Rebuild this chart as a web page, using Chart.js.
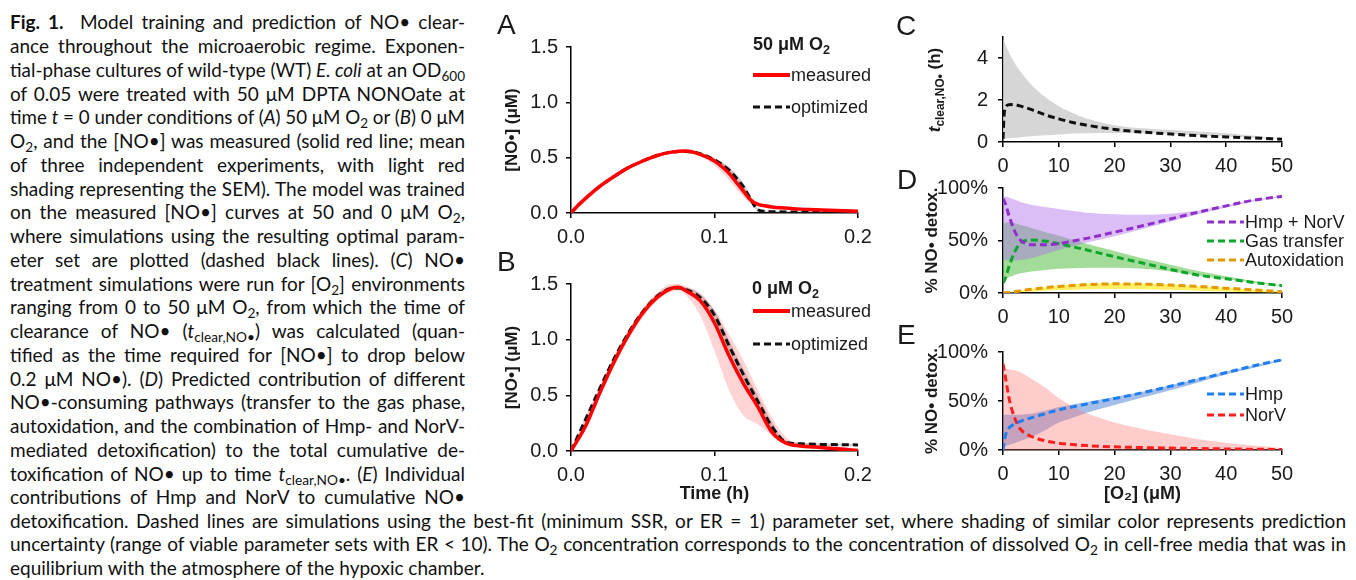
<!DOCTYPE html>
<html>
<head>
<meta charset="utf-8">
<script src="https://cdn.jsdelivr.net/npm/chart.js@4.4.1/dist/chart.umd.min.js"></script>
<style>
body { margin: 0; background: #fff; width: 1356px; height: 580px; position: relative; overflow: hidden; font-family: 'Liberation Sans', Arial, sans-serif; color: #1a1a1a; }
canvas { position: absolute; }
.cap { position: absolute; left: 10px; width: 455px; font-family: 'Lato', 'Noto Sans', sans-serif; font-size: 19px; line-height: 24px; white-space: nowrap; color: #111; overflow: visible; }
.cap.wide { width: 1336px; }
.cap > span { display: inline-block; transform-origin: 0 50%; }
.cap sub { font-size: 0.72em; vertical-align: -0.28em; line-height: 0; }
.lab { position: absolute; font-size: 28px; line-height: 1; }
.ttl { position: absolute; font-weight: bold; font-size: 18px; line-height: 20px; white-space: nowrap; }
.ttl sub { font-size: 0.7em; vertical-align: -0.3em; line-height: 0; }
.leg { position: absolute; font-size: 18px; line-height: 20px; height: 20px; display: flex; align-items: center; white-space: nowrap; }
.leg svg { margin-right: 1px; }
.ytl { position: absolute; font-weight: bold; font-size: 17px; white-space: nowrap; transform: translate(-50%, -50%) rotate(-90deg); }
.ytl sub { font-size: 0.7em; vertical-align: -0.3em; line-height: 0; }
</style>
</head>
<body>

<div class="cap" style="top:10px"><span><b>Fig. 1.</b>&nbsp; Model training and prediction of NO• clear-</span></div>
<div class="cap" style="top:34px"><span>ance throughout the microaerobic regime. Exponen-</span></div>
<div class="cap" style="top:58px"><span>tial-phase cultures of wild-type (WT) <i>E. coli</i> at an OD<sub>600</sub></span></div>
<div class="cap" style="top:82px"><span>of 0.05 were treated with 50 μM DPTA NONOate at</span></div>
<div class="cap" style="top:105px"><span>time <i>t</i> = 0 under conditions of (<i>A</i>) 50 μM O<sub>2</sub> or (<i>B</i>) 0 μM</span></div>
<div class="cap" style="top:129px"><span>O<sub>2</sub>, and the [NO•] was measured (solid red line; mean</span></div>
<div class="cap" style="top:153px"><span>of three independent experiments, with light red</span></div>
<div class="cap" style="top:177px"><span>shading representing the SEM). The model was trained</span></div>
<div class="cap" style="top:200px"><span>on the measured [NO•] curves at 50 and 0 μM O<sub>2</sub>,</span></div>
<div class="cap" style="top:224px"><span>where simulations using the resulting optimal param-</span></div>
<div class="cap" style="top:248px"><span>eter set are plotted (dashed black lines). (<i>C</i>) NO•</span></div>
<div class="cap" style="top:272px"><span>treatment simulations were run for [O<sub>2</sub>] environments</span></div>
<div class="cap" style="top:295px"><span>ranging from 0 to 50 μM O<sub>2</sub>, from which the time of</span></div>
<div class="cap" style="top:319px"><span>clearance of NO• (<i>t</i><sub>clear,NO•</sub>) was calculated (quan-</span></div>
<div class="cap" style="top:343px"><span>tified as the time required for [NO•] to drop below</span></div>
<div class="cap" style="top:367px"><span>0.2 μM NO•). (<i>D</i>) Predicted contribution of different</span></div>
<div class="cap" style="top:390px"><span>NO•-consuming pathways (transfer to the gas phase,</span></div>
<div class="cap" style="top:414px"><span>autoxidation, and the combination of Hmp- and NorV-</span></div>
<div class="cap" style="top:438px"><span>mediated detoxification) to the total cumulative de-</span></div>
<div class="cap" style="top:462px"><span>toxification of NO• up to time <i>t</i><sub>clear,NO•</sub>. (<i>E</i>) Individual</span></div>
<div class="cap" style="top:485px"><span>contributions of Hmp and NorV to cumulative NO•</span></div>
<div class="cap wide" style="top:509px"><span>detoxification. Dashed lines are simulations using the best-fit (minimum SSR, or ER = 1) parameter set, where shading of similar color represents prediction</span></div>
<div class="cap wide" style="top:532px"><span>uncertainty (range of viable parameter sets with ER &lt; 10). The O<sub>2</sub> concentration corresponds to the concentration of dissolved O<sub>2</sub> in cell-free media that was in</span></div>
<div class="cap wide last" style="top:556px"><span>equilibrium with the atmosphere of the hypoxic chamber.</span></div>

<canvas id="panelA" width="400" height="252" style="left:490px;top:0px"></canvas>
<canvas id="panelB" width="400" height="270" style="left:490px;top:240px"></canvas>
<canvas id="panelC" width="466" height="172" style="left:890px;top:0px"></canvas>
<canvas id="panelD" width="466" height="172" style="left:890px;top:160px"></canvas>
<canvas id="panelE" width="466" height="180" style="left:890px;top:330px"></canvas>

<div class="lab" style="left:497px;top:11px">A</div>
<div class="lab" style="left:497px;top:248px">B</div>
<div class="lab" style="left:896px;top:12px">C</div>
<div class="lab" style="left:897px;top:166px">D</div>
<div class="lab" style="left:897px;top:321px">E</div>

<div class="ttl" style="left:753px;top:34px">50 μM O<sub>2</sub></div>
<div class="ttl" style="left:752px;top:278px">0 μM O<sub>2</sub></div>
<div class="ytl" style="left:935px;top:90px"><i>t</i><sub>clear,NO•</sub> (h)</div>

<script>
// ---- panel A : 50 uM O2 ----
const tA = [0, 0.005, 0.01, 0.02, 0.03, 0.04, 0.05, 0.06, 0.07, 0.08, 0.09, 0.1, 0.105, 0.11, 0.115, 0.12, 0.125, 0.13, 0.135, 0.14, 0.15, 0.16, 0.17, 0.18, 0.19, 0.2];
const measA = [0, 0.07, 0.13, 0.24, 0.33, 0.41, 0.47, 0.52, 0.55, 0.56, 0.53, 0.47, 0.42, 0.36, 0.28, 0.2, 0.12, 0.08, 0.065, 0.055, 0.045, 0.035, 0.03, 0.025, 0.02, 0.015];
const semLoA = [0, 0.06, 0.12, 0.23, 0.32, 0.40, 0.46, 0.51, 0.54, 0.55, 0.51, 0.43, 0.37, 0.30, 0.22, 0.15, 0.09, 0.065, 0.055, 0.045, 0.037, 0.028, 0.023, 0.018, 0.014, 0.01];
const semHiA = [0, 0.08, 0.14, 0.25, 0.34, 0.42, 0.48, 0.53, 0.565, 0.575, 0.55, 0.5, 0.46, 0.41, 0.33, 0.25, 0.15, 0.095, 0.075, 0.065, 0.053, 0.042, 0.037, 0.032, 0.026, 0.02];
const optA = [0, 0.07, 0.13, 0.24, 0.33, 0.41, 0.47, 0.52, 0.55, 0.555, 0.535, 0.48, 0.44, 0.39, 0.32, 0.24, 0.13, 0.03, 0.015, 0.012, 0.01, 0.01, 0.01, 0.01, 0.01, 0.01];
const uncLoA = [0, 0.065, 0.125, 0.235, 0.325, 0.405, 0.465, 0.515, 0.545, 0.55, 0.525, 0.465, 0.42, 0.365, 0.29, 0.2, 0.1, 0.02, 0.008, 0.006, 0.005, 0.005, 0.005, 0.005, 0.005, 0.005];
const uncHiA = [0, 0.075, 0.135, 0.245, 0.335, 0.415, 0.475, 0.525, 0.555, 0.56, 0.545, 0.495, 0.46, 0.415, 0.35, 0.27, 0.16, 0.045, 0.022, 0.018, 0.015, 0.015, 0.015, 0.015, 0.015, 0.015];

// ---- panel B : 0 uM O2 ----
const tB = [0, 0.01, 0.02, 0.03, 0.04, 0.05, 0.06, 0.07, 0.075, 0.08, 0.09, 0.1, 0.11, 0.12, 0.13, 0.14, 0.15, 0.16, 0.17, 0.18, 0.19, 0.2];
const measB = [0, 0.22, 0.52, 0.8, 1.04, 1.24, 1.38, 1.46, 1.47, 1.44, 1.35, 1.15, 0.86, 0.61, 0.4, 0.17, 0.07, 0.045, 0.035, 0.025, 0.015, 0.005];
const semLoB = [0, 0.19, 0.48, 0.76, 1.0, 1.2, 1.35, 1.43, 1.44, 1.4, 1.22, 0.9, 0.55, 0.32, 0.24, 0.14, 0.05, 0.03, 0.02, 0.012, 0.005, 0];
const semHiB = [0, 0.25, 0.56, 0.84, 1.08, 1.28, 1.42, 1.5, 1.5, 1.48, 1.42, 1.27, 1.05, 0.82, 0.55, 0.3, 0.12, 0.07, 0.06, 0.05, 0.035, 0.02];
const optB = [0, 0.28, 0.56, 0.83, 1.06, 1.25, 1.39, 1.46, 1.465, 1.45, 1.38, 1.22, 0.95, 0.69, 0.45, 0.22, 0.08, 0.065, 0.06, 0.058, 0.056, 0.055];
const uncLoB = [0, 0.26, 0.54, 0.81, 1.04, 1.23, 1.37, 1.44, 1.45, 1.43, 1.35, 1.18, 0.9, 0.64, 0.4, 0.18, 0.07, 0.055, 0.05, 0.048, 0.046, 0.045];
const uncHiB = [0, 0.3, 0.58, 0.85, 1.08, 1.27, 1.41, 1.48, 1.48, 1.47, 1.41, 1.26, 1.0, 0.74, 0.5, 0.26, 0.09, 0.075, 0.07, 0.068, 0.066, 0.065];

// ---- panel C : t_clear vs O2 ----
const o2C = [0, 0.2, 0.5, 1, 2, 3, 5, 7.5, 10, 12.5, 15, 20, 25, 30, 35, 40, 45, 50];
const tClear = [0.15, 1.3, 1.65, 1.77, 1.78, 1.72, 1.55, 1.3, 1.1, 0.93, 0.8, 0.6, 0.47, 0.38, 0.3, 0.24, 0.19, 0.13];
const o2CBand = [0, 1, 2, 3, 5, 7.5, 10, 12.5, 15, 20, 25, 30, 35, 40, 45, 50];
const tClearHi = [4.9, 4.3, 3.8, 3.4, 2.75, 2.15, 1.7, 1.38, 1.12, 0.8, 0.65, 0.57, 0.5, 0.42, 0.3, 0.13];
const tClearLo = [0.15, 0.18, 0.2, 0.22, 0.27, 0.32, 0.36, 0.4, 0.42, 0.43, 0.42, 0.38, 0.32, 0.26, 0.2, 0.13];

// ---- panel D : pathway contributions (%) ----
const o2D = [0, 0.5, 1, 2, 3, 4, 5, 7.5, 10, 12.5, 15, 20, 25, 30, 35, 40, 45, 50];
const hmpNorV = [90, 84, 75, 60, 51, 47.5, 46, 46, 47, 49.5, 52, 58, 64, 70.5, 77, 83, 88.5, 92];
const hmpNorVHi = [92, 92, 91, 89, 87, 85.5, 84, 82, 80, 78, 76.5, 75, 74.5, 75.5, 78.5, 83.5, 89, 92.5];
const hmpNorVLo = [32, 31.5, 31, 31, 31.5, 32, 33, 37, 41, 44.5, 48, 54, 61, 68, 75, 81.5, 87.5, 91.5];
const gasTransfer = [9.5, 15, 24, 38, 47, 50, 50.5, 49.5, 47, 44, 41, 34.5, 28.5, 22.5, 17, 13.5, 10, 7];
const gasHi = [66, 67, 67.5, 67, 65, 63.5, 62, 58, 54.5, 50.5, 47, 40, 33, 27, 21, 16, 11.5, 7.5];
const gasLo = [9, 13, 15, 17, 18.5, 19.5, 20.5, 22, 23, 23.5, 24, 24, 23, 20.5, 16.5, 13, 9.5, 6.5];
const autox = [0, 0.3, 0.6, 1.3, 2, 2.8, 3.5, 5, 6.3, 7.2, 8, 8.7, 8.5, 7.6, 6.2, 4.6, 3, 1.2];
const autoxHi = [0.5, 0.6, 0.8, 1.5, 2.3, 3.2, 4, 5.5, 7, 8, 8.8, 9.3, 9, 8, 6.5, 5, 3.2, 1.5];
const autoxLo = [0, 0.1, 0.2, 0.5, 0.8, 1.1, 1.4, 2.1, 2.8, 3.2, 3.5, 3.8, 3.6, 3, 2.2, 1.4, 0.7, 0.2];

// ---- panel E : Hmp vs NorV (%) ----
const o2E = [0, 0.25, 0.5, 1, 1.5, 2, 3, 4, 5, 7.5, 10, 12.5, 15, 20, 25, 30, 35, 40, 45, 50];
const hmp = [0, 10, 16, 22, 24.5, 26.5, 29, 31, 32.8, 37, 41, 44, 47, 52.5, 58.5, 65, 72, 79, 86, 92];
const hmpHi = [36, 36, 36, 36, 36, 36, 36, 36.5, 37, 40, 44, 46.5, 49, 54, 59.5, 66, 73, 80, 86.5, 92.5];
const hmpLo = [2, 3, 4, 5, 6, 7, 9, 11, 13, 20, 28, 33, 38, 46, 53.5, 61, 69, 77, 84, 91];
const norV = [88, 80, 72, 55, 43, 34, 22, 17, 14, 9.5, 7, 5.5, 4.5, 3.2, 2.5, 2, 1.5, 1.1, 0.8, 0.5];
const norVHi = [83, 83, 83, 82.5, 82, 81.5, 79.5, 76.5, 73, 64, 53, 44.5, 37.5, 28, 21.5, 16, 11, 7.5, 4.5, 2];
const norVLo = [0, 0, 0, 0, 0, 0, 0, 0, 0, 0, 0, 0, 0, 0, 0, 0, 0, 0, 0, 0];

const RED = '#ff0000';
const BLACK = '#111111';
const PURPLE = '#8f2fcc';
const GREEN = '#0ea52c';
const ORANGE = '#e29a00';
const BLUE = '#1f7ff0';
const NORV_RED = '#ff1f1f';
const DASH = [7, 4];
const TXT = '#1a1a1a';
const FAMILY = "'Liberation Sans', Arial, sans-serif";

function pts(xs, ys) {
    return xs.map(function(x, i) { return { x: x, y: ys[i] }; });
}

function curva(xs, ys, color, dash, width) {
    return {
        data: pts(xs, ys),
        borderColor: color,
        borderWidth: width || 3,
        borderDash: dash || [],
        pointRadius: 0,
        fill: false,
        cubicInterpolationMode: 'monotone',
        order: 0
    };
}

// two datasets: lower edge then upper edge filled down to it
function banda(xs, lo, hi, color) {
    return [
        { data: pts(xs, lo), borderWidth: 0, pointRadius: 0, fill: false, cubicInterpolationMode: 'monotone', order: 2 },
        { data: pts(xs, hi), borderWidth: 0, pointRadius: 0, fill: '-1', backgroundColor: color, cubicInterpolationMode: 'monotone', order: 2 }
    ];
}

function ejes(o) {
    const font = { family: FAMILY, size: 20 };
    const grid = { drawOnChartArea: false, drawTicks: true, tickLength: 5, color: '#000', lineWidth: 1.5 };
    const border = { color: '#000', width: 1.5 };
    return {
        x: {
            type: 'linear', min: o.xmin, max: o.xmax,
            grid: grid, border: border,
            ticks: { stepSize: o.xstep, callback: o.xfmt, font: font, color: TXT, padding: 7, maxRotation: 0, autoSkip: false },
            title: { display: !!o.xtitle, text: o.xtitle || '', color: TXT, font: { family: FAMILY, size: 18, weight: 'bold' }, padding: { top: 0, bottom: 5 } },
            afterFit: function(s) { s.height = o.xH; }
        },
        y: {
            type: 'linear', min: o.ymin, max: o.ymax,
            grid: grid, border: border,
            ticks: { stepSize: o.ystep, callback: o.yfmt, font: font, color: TXT, padding: o.ypad, autoSkip: false },
            title: { display: !!o.ytitle, text: o.ytitle || '', color: TXT, font: { family: FAMILY, size: 17, weight: 'bold' }, padding: { top: o.ytpad, bottom: 0 } },
            afterBuildTicks: function(s) {
                if (o.ykeep) s.ticks = s.ticks.filter(function(t) { return o.ykeep.indexOf(t.value) >= 0; });
            },
            afterFit: function(s) { s.width = o.yW; }
        }
    };
}

function panel(id, datasets, o) {
    new Chart(document.getElementById(id), {
        type: 'line',
        data: { datasets: datasets },
        options: {
            responsive: false,
            animation: false,
            events: [],
            layout: { padding: { left: 0, top: o.top, right: o.right, bottom: 0 } },
            plugins: { legend: { display: false }, tooltip: { enabled: false } },
            scales: ejes(o)
        }
    });
}

const fmt1 = function(v) { return v.toFixed(1); };
const fmt0 = function(v) { return String(v); };
const fmtPct = function(v) { return v + '%'; };

panel('panelA', [].concat(
    banda(tA, semLoA, semHiA, 'rgba(255,60,60,0.22)'),
    banda(tA, uncLoA, uncHiA, 'rgba(120,120,120,0.35)'),
    [curva(tA, measA, RED, [], 3.5), curva(tA, optA, BLACK, DASH, 3)]
), { xmin: 0, xmax: 0.2, xstep: 0.1, xfmt: fmt1, ymin: 0, ymax: 1.5, ystep: 0.5, yfmt: fmt1,
     top: 47, right: 32, yW: 81, xH: 39, ypad: 8, ytitle: '[NO•] (μM)', ytpad: 12 });

panel('panelB', [].concat(
    banda(tB, semLoB, semHiB, 'rgba(255,60,60,0.22)'),
    banda(tB, uncLoB, uncHiB, 'rgba(120,120,120,0.35)'),
    [curva(tB, measB, RED, [], 3.5), curva(tB, optB, BLACK, DASH, 3)]
), { xmin: 0, xmax: 0.2, xstep: 0.1, xfmt: fmt1, ymin: 0, ymax: 1.5, ystep: 0.5, yfmt: fmt1,
     top: 44, right: 32, yW: 81, xH: 59, ypad: 8, ytitle: '[NO•] (μM)', ytpad: 12, xtitle: 'Time (h)' });

panel('panelC', [].concat(
    banda(o2CBand, tClearLo, tClearHi, 'rgba(200,200,200,0.75)'),
    [curva(o2C, tClear, BLACK, DASH, 3)]
), { xmin: 0, xmax: 50, xstep: 10, xfmt: fmt0, ymin: 0, ymax: 5, ystep: 2, yfmt: fmt0, ykeep: [0, 2, 4],
     top: 37, right: 74, yW: 113, xH: 30, ypad: 10 });

panel('panelD', [].concat(
    banda(o2D, hmpNorVLo, hmpNorVHi, 'rgba(175,110,235,0.45)'),
    banda(o2D, gasLo, gasHi, 'rgba(70,185,50,0.5)'),
    banda(o2D, autoxLo, autoxHi, 'rgba(255,230,0,0.6)'),
    [curva(o2D, hmpNorV, PURPLE, DASH, 3), curva(o2D, gasTransfer, GREEN, DASH, 3), curva(o2D, autox, ORANGE, DASH, 3)]
), { xmin: 0, xmax: 50, xstep: 10, xfmt: fmt0, ymin: 0, ymax: 100, ystep: 50, yfmt: fmtPct,
     top: 28, right: 74, yW: 113, xH: 39, ypad: 10, ytitle: '% NO• detox.', ytpad: 32 });

panel('panelE', [].concat(
    banda(o2E, norVLo, norVHi, 'rgba(255,110,110,0.35)'),
    banda(o2E, hmpLo, hmpHi, 'rgba(40,100,200,0.42)'),
    [curva(o2E, hmp, BLUE, DASH, 3), curva(o2E, norV, NORV_RED, DASH, 3)]
), { xmin: 0, xmax: 50, xstep: 10, xfmt: fmt0, ymin: 0, ymax: 100, ystep: 50, yfmt: fmtPct,
     top: 13, right: 74, yW: 113, xH: 60, ypad: 10, ytitle: '% NO• detox.', ytpad: 32, xtitle: '[O₂] (μM)' });

// legend rows: line sample + label
function leyenda(x, y, color, dash, width, texto) {
    const div = document.createElement('div');
    div.className = 'leg';
    div.style.left = x + 'px';
    div.style.top = (y - 10) + 'px';
    const w = 37;
    div.innerHTML = '<svg width="' + w + '" height="8"><line x1="0" y1="4" x2="' + w + '" y2="4" stroke="' + color +
        '" stroke-width="' + width + '"' + (dash.length ? ' stroke-dasharray="' + dash.join(' ') + '"' : '') + '/></svg>' + texto;
    document.body.appendChild(div);
}

leyenda(753, 75, RED, [], 4, 'measured');
leyenda(753, 107, BLACK, DASH, 3, 'optimized');
leyenda(753, 311, RED, [], 4, 'measured');
leyenda(753, 344, BLACK, DASH, 3, 'optimized');
leyenda(1207, 222, PURPLE, DASH, 3, 'Hmp + NorV');
leyenda(1207, 241, GREEN, DASH, 3, 'Gas transfer');
leyenda(1207, 260, ORANGE, DASH, 3, 'Autoxidation');
leyenda(1207, 394, BLUE, DASH, 3, 'Hmp');
leyenda(1207, 415, NORV_RED, DASH, 3, 'NorV');

// justify caption lines to the column width
document.querySelectorAll('.cap').forEach(function(div) {
    const span = div.firstElementChild;
    const W = div.clientWidth;
    const w = span.getBoundingClientRect().width;
    if (w > W) {
        span.style.transform = 'scaleX(' + (W / w) + ')';
        return;
    }
    if (div.classList.contains('last')) return;
    const n = (span.textContent.match(/[ \u00a0]/g) || []).length;
    if (n) span.style.wordSpacing = ((W - w) / n) + 'px';
});
</script>
</body>
</html>
